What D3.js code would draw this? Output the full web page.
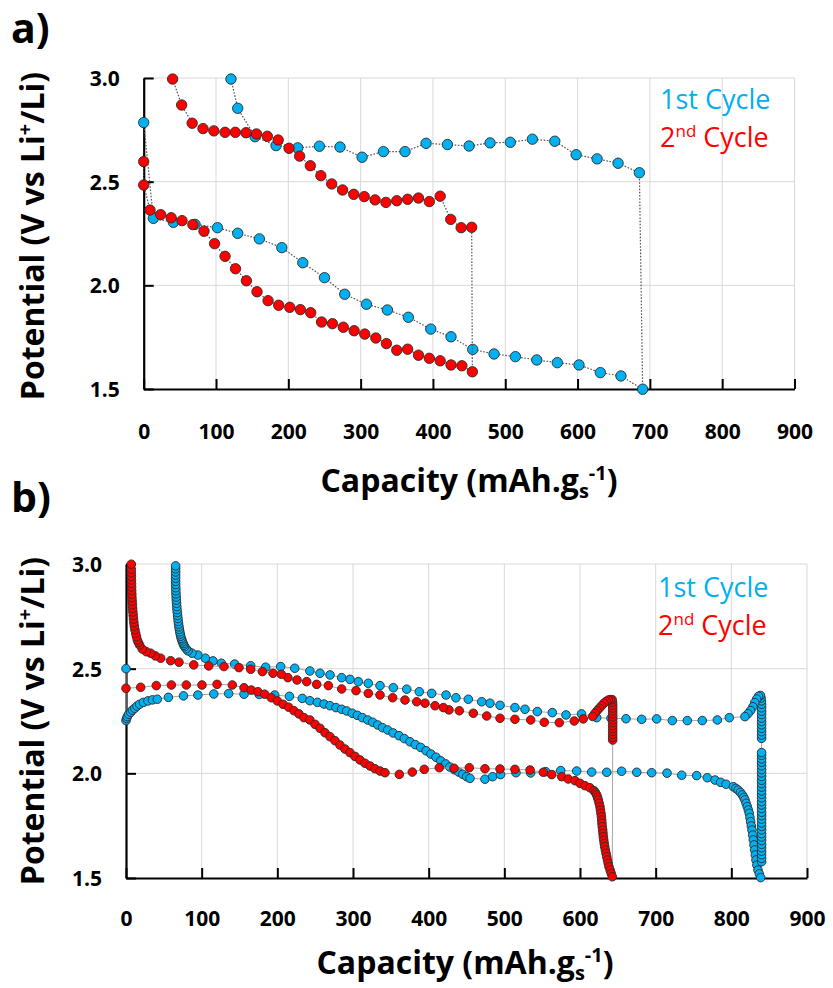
<!DOCTYPE html>
<html>
<head>
<meta charset="utf-8">
<script src="https://cdn.jsdelivr.net/npm/d3@7/dist/d3.min.js"></script>
<style>
  body { margin: 0; background: #fff; }
  text { font-family: "Open Sans", "DejaVu Sans", sans-serif; }
</style>
</head>
<body>
<svg id="chart" width="833" height="988"></svg>
<script>
// Axis ticks
const xTicks = [0, 100, 200, 300, 400, 500, 600, 700, 800, 900];
const yTicks = [1.5, 2.0, 2.5, 3.0];

// Legend
const cycleNames = [["1", "st", " Cycle"], ["2", "nd", " Cycle"]];
const cycleColors = ["#00B0F0", "#FF0000"];

// Panel a: [capacity mAh/g, potential V], in measurement order (discharge then charge)
const cycle1A = [
  [0, 2.785], [13.3, 2.323], [41, 2.304], [71, 2.294], [102, 2.278], [130, 2.251],
  [160, 2.224], [191, 2.182], [220, 2.109], [250, 2.037], [278, 1.957], [308, 1.909],
  [337, 1.881], [366, 1.846], [397, 1.789], [425, 1.752], [455, 1.691], [484.5, 1.669],
  [514, 1.656], [543.6, 1.640], [572, 1.627], [602, 1.616], [631.5, 1.579], [660, 1.563],
  [690, 1.499],
  [685.5, 2.543], [656, 2.589], [627, 2.610], [598, 2.630], [568.5, 2.695], [537.5, 2.705],
  [507, 2.690], [479, 2.687], [450, 2.672], [420, 2.679], [390.5, 2.685], [361.4, 2.645],
  [331.5, 2.645], [302, 2.618], [271.5, 2.667], [243, 2.671], [213, 2.663], [183, 2.674],
  [154, 2.717], [130, 2.854], [120.7, 2.995]
];
const cycle2A = [
  [0, 2.597], [0, 2.484], [8.7, 2.363], [23.5, 2.341], [38, 2.326], [53, 2.312], [68, 2.293],
  [83.4, 2.261], [98, 2.201], [112.5, 2.140], [127, 2.080], [142, 2.022], [156.7, 1.969],
  [172, 1.926], [186.7, 1.904], [202, 1.894], [216.6, 1.883], [231, 1.868], [246, 1.823],
  [261, 1.815], [276, 1.798], [291, 1.781], [305.7, 1.765], [321, 1.746], [335.6, 1.719],
  [350, 1.687], [365, 1.692], [380, 1.663], [395, 1.648], [410, 1.636], [425, 1.616],
  [440, 1.612], [454.5, 1.583],
  [453.6, 2.280], [439, 2.278], [424.6, 2.318], [410, 2.430], [395, 2.404], [380, 2.421],
  [365, 2.415], [350, 2.408], [335, 2.400], [320, 2.412], [305, 2.428], [290.5, 2.439],
  [275, 2.460], [260, 2.489], [245, 2.529], [230.4, 2.577], [215.7, 2.623], [201, 2.661],
  [186, 2.701], [171, 2.719], [156, 2.730], [141.5, 2.736], [126.7, 2.738], [112.5, 2.738],
  [97, 2.745], [82, 2.756], [67, 2.782], [52.5, 2.870], [40, 2.995]
];

// Panel b
const cycle1B = [
  [0, 2.500],
  [0, 2.252], [0.8, 2.262], [1.7, 2.271], [3.5, 2.282], [6.2, 2.292], [8.5, 2.302],
  [11.5, 2.311], [14.5, 2.321], [18, 2.330], [23, 2.339], [29, 2.346], [35, 2.351],
  [41.4, 2.354], [56, 2.363], [76, 2.370], [95, 2.374], [116, 2.379], [135.7, 2.381],
  [156, 2.378], [176, 2.377], [196.5, 2.374], [216, 2.368], [233, 2.358], [243, 2.347],
  [253, 2.339], [261.7, 2.331], [269.6, 2.323], [277.5, 2.314], [285, 2.306], [291.6, 2.298],
  [299, 2.287], [305.7, 2.277], [312.3, 2.266], [319.4, 2.255], [326, 2.244], [332.6, 2.231],
  [339, 2.218], [345.8, 2.207], [353, 2.193], [360.8, 2.180], [367.8, 2.166], [375.3, 2.151],
  [382.3, 2.137], [389.4, 2.124], [396.5, 2.108], [403, 2.092], [409.7, 2.077], [415.9, 2.060],
  [422.5, 2.045], [428, 2.030], [434, 2.017], [439.7, 2.006], [445, 1.995], [450.2, 1.984],
  [454.6, 1.976], [474.4, 1.972], [484.6, 1.984], [495, 1.994], [515.4, 2.003], [534.8, 2.002],
  [554.6, 2.008], [574.5, 2.013], [595.6, 2.011], [615.4, 2.006], [635.3, 2.005], [655, 2.010],
  [675, 2.005], [694.7, 2.003], [715, 2.001], [734.4, 1.991], [754.2, 1.989], [768.2, 1.979],
  [778.4, 1.968], [785.9, 1.957], [793, 1.948], [802.6, 1.936], [806, 1.928], [809, 1.920],
  [812, 1.909], [814.5, 1.897], [816.5, 1.885], [818, 1.873], [819.5, 1.857], [821, 1.841],
  [822.5, 1.825], [823.7, 1.809], [824.6, 1.789], [825.5, 1.769], [826.4, 1.749], [827.3, 1.729],
  [828.2, 1.705], [829, 1.682], [829.9, 1.658], [830.8, 1.634], [831.7, 1.610], [832.6, 1.586],
  [833.8, 1.562], [835.2, 1.538], [837, 1.520], [838.8, 1.502],
  [840, 1.578], [840, 1.594], [840, 1.611], [840, 1.628], [840, 1.645], [840, 1.661],
  [840, 1.679], [840, 1.696], [840, 1.712], [840, 1.730], [840, 1.747], [840, 1.763],
  [840, 1.781], [840, 1.798], [840, 1.814], [840, 1.832], [840, 1.849], [840, 1.865],
  [840, 1.883], [840, 1.900], [840, 1.916], [840, 1.934], [840, 1.951], [840, 1.967],
  [840, 1.985], [840, 2.002], [840, 2.018], [840, 2.036], [840, 2.053], [840, 2.069],
  [840, 2.086], [840, 2.099],
  [840, 2.167], [840, 2.183], [840, 2.199], [840, 2.215], [840, 2.232], [840, 2.248],
  [840, 2.264], [840, 2.281], [840, 2.297], [840, 2.313], [840, 2.330], [839.7, 2.346],
  [839.2, 2.360], [838.5, 2.372],
  [836, 2.368], [833.5, 2.355], [831, 2.338], [828.5, 2.318], [825.5, 2.300], [822, 2.285],
  [818, 2.271], [797.3, 2.266], [781.5, 2.255], [761.6, 2.252], [741.8, 2.252], [722, 2.252],
  [701.3, 2.260], [681.5, 2.258], [660.8, 2.261], [641, 2.263], [622, 2.266], [602, 2.284],
  [581.5, 2.279], [563.4, 2.290], [543.6, 2.295], [527.3, 2.306], [514, 2.314], [494.3, 2.325],
  [481, 2.335], [470, 2.342], [452.4, 2.354], [436, 2.361], [423, 2.374], [404, 2.382],
  [387.6, 2.390], [371, 2.402], [353.3, 2.409], [335.7, 2.419], [320.2, 2.430], [307, 2.438],
  [296, 2.449], [285, 2.457], [269.6, 2.470], [256.4, 2.478], [243, 2.489], [223, 2.502],
  [204.4, 2.510], [184.6, 2.507], [164.8, 2.514], [143.6, 2.522], [126, 2.526], [115, 2.537],
  [104.8, 2.550], [95, 2.565], [87.2, 2.574], [82, 2.585], [79.5, 2.595], [77.5, 2.605],
  [76.4, 2.612], [75.5, 2.620], [74.6, 2.628], [73.8, 2.637], [73, 2.645], [72.3, 2.655],
  [71.7, 2.665], [71.1, 2.676], [70.5, 2.688], [70, 2.700], [69.5, 2.713], [69, 2.726],
  [68.6, 2.740], [68.2, 2.754], [67.8, 2.768], [67.4, 2.782], [67.1, 2.797], [66.8, 2.812],
  [66.5, 2.827], [66.3, 2.842], [66.1, 2.857], [65.9, 2.872], [65.8, 2.887], [65.7, 2.902],
  [65.6, 2.917], [65.6, 2.932], [65.6, 2.947], [65.6, 2.962], [65.6, 2.977], [65.6, 2.991]
];
const cycle2B = [
  [0, 2.406], [19.4, 2.411], [40, 2.419], [60, 2.422], [79.7, 2.422], [100.4, 2.422],
  [120.3, 2.425], [140.5, 2.422], [156, 2.409], [165.6, 2.398], [174.4, 2.390], [183.3, 2.378],
  [192, 2.361], [200, 2.346], [207.5, 2.330], [215, 2.316], [222, 2.299], [228.6, 2.284],
  [235.2, 2.266], [243, 2.255], [249.8, 2.234], [256.4, 2.215], [263, 2.194], [269.6, 2.175],
  [276.2, 2.156], [282.8, 2.135], [289.4, 2.116], [296, 2.099], [302.6, 2.081], [309.2, 2.064],
  [315.8, 2.048], [322.5, 2.035], [329, 2.022], [335.7, 2.011], [342.3, 2.003], [361.2, 1.995],
  [378.4, 2.006], [394.2, 2.019], [414, 2.027], [433.5, 2.024], [453.7, 2.027], [474.4, 2.022],
  [494.3, 2.021], [514, 2.019], [534, 2.016], [551.5, 2.005], [562.6, 1.994], [575.8, 1.984],
  [584.5, 1.973], [593.4, 1.965], [600, 1.952], [606.6, 1.941], [613.2, 1.931], [618.5, 1.917],
  [620.5, 1.907], [622, 1.897], [623.2, 1.885], [624.2, 1.873], [625.3, 1.857], [626.4, 1.841],
  [627, 1.825], [627.7, 1.809], [628.3, 1.793], [628.7, 1.777], [629, 1.761], [629.4, 1.745],
  [630, 1.729], [630.4, 1.713], [630.8, 1.697], [631.4, 1.681], [632, 1.665], [632.6, 1.650],
  [633.5, 1.634], [634.4, 1.618], [635.3, 1.602], [636.3, 1.586], [637.3, 1.570], [638.3, 1.554],
  [639.8, 1.538], [641.2, 1.522], [642.7, 1.506],
  [643.2, 2.159], [643.2, 2.172], [643.2, 2.186], [643.2, 2.200], [643.2, 2.214], [643.2, 2.228],
  [643.2, 2.242], [643.2, 2.256], [643.2, 2.270], [643.2, 2.284], [643.2, 2.298], [643.2, 2.312],
  [643.2, 2.326], [643, 2.340], [642.5, 2.352],
  [640, 2.352], [637.4, 2.350], [634.5, 2.343], [631.7, 2.335], [628.6, 2.323], [625.5, 2.311],
  [622.6, 2.299], [619.8, 2.287], [616.7, 2.272], [604.3, 2.260], [592.4, 2.250], [572.6, 2.242],
  [552.8, 2.244], [534.8, 2.255], [514, 2.258], [494.3, 2.263], [476.7, 2.274], [459, 2.287],
  [440.5, 2.299], [426.8, 2.303], [419.4, 2.314], [408.4, 2.323], [395.1, 2.335], [384.2, 2.342],
  [368.7, 2.350], [352.4, 2.361], [335.7, 2.374], [320.2, 2.382], [304, 2.395], [285, 2.403],
  [267.4, 2.419], [252, 2.425], [238.8, 2.438], [226, 2.446], [214, 2.457], [205.3, 2.473],
  [194.3, 2.478], [180.2, 2.486], [164.8, 2.497], [149.3, 2.505], [129.5, 2.510], [109.3, 2.513],
  [89.5, 2.518], [70, 2.531], [59, 2.538], [45.8, 2.550], [38.8, 2.561], [32.6, 2.574],
  [26.8, 2.581], [21.5, 2.594], [18, 2.613], [16.3, 2.625], [15, 2.637], [13.8, 2.653],
  [12.8, 2.669], [11.8, 2.686], [11, 2.703], [10.4, 2.720], [9.9, 2.737], [9.5, 2.754],
  [9.1, 2.771], [8.8, 2.788], [8.5, 2.805], [8.2, 2.822], [7.9, 2.839], [7.7, 2.856],
  [7.5, 2.873], [7.4, 2.890], [7.3, 2.907], [7.2, 2.924], [7.1, 2.941], [7, 2.958],
  [7, 2.975], [7, 2.999]
];

const svg = d3.select("#chart");

function drawPanel(cfg) {
  const x = d3.scaleLinear().domain([0, 900]).range([cfg.left, cfg.right]);
  const y = d3.scaleLinear().domain([1.5, 3.0]).range([cfg.bottom, cfg.top]);
  const g = svg.append("g");

  // Gridlines
  g.append("g").selectAll("line").data(xTicks.filter(t => t > 0)).join("line")
    .attr("x1", d => x(d)).attr("x2", d => x(d))
    .attr("y1", y(3.0)).attr("y2", y(1.5))
    .attr("stroke", "#d9d9d9").attr("stroke-width", 1);
  g.append("g").selectAll("line").data(yTicks.filter(t => t > 1.5)).join("line")
    .attr("x1", x(0)).attr("x2", x(900))
    .attr("y1", d => y(d)).attr("y2", d => y(d))
    .attr("stroke", "#d9d9d9").attr("stroke-width", 1);

  // Axes with inward ticks
  const ax = g.append("g").attr("transform", `translate(0,${y(1.5)})`)
    .call(d3.axisBottom(x).tickValues(xTicks).tickSize(-10).tickSizeOuter(0).tickFormat(d3.format("d")));
  const ay = g.append("g").attr("transform", `translate(${x(0)},0)`)
    .call(d3.axisLeft(y).tickValues(yTicks).tickSize(-10).tickSizeOuter(0).tickFormat(d3.format(".1f")));
  [ax, ay].forEach(a => {
    a.select(".domain").attr("stroke", "#000").attr("stroke-width", 2.2);
    a.selectAll(".tick line").attr("stroke", "#000").attr("stroke-width", 2);
    a.selectAll(".tick text").attr("fill", "#000").style("font-size", "21px")
      .style("font-weight", "bold").attr("font-family", null);
  });
  ax.selectAll(".tick text").attr("y", cfg.xTickDy).attr("dy", 0);
  ay.selectAll(".tick text").attr("x", -24).attr("dy", "0.36em");

  // Series: connecting line then markers
  const line = d3.line().x(d => x(d[0])).y(d => y(d[1]));
  cfg.series.forEach((s, i) => {
    g.append("path").datum(s).attr("d", line).attr("fill", "none")
      .attr("stroke", cfg.lineColor).attr("stroke-width", cfg.lineWidth)
      .attr("stroke-dasharray", cfg.dash);
    g.append("g").selectAll("circle").data(s).join("circle")
      .attr("cx", d => x(d[0])).attr("cy", d => y(d[1])).attr("r", cfg.r)
      .attr("fill", cycleColors[i]).attr("stroke", "#2b2b2b").attr("stroke-width", 0.9);
  });

  // Legend
  cycleNames.forEach((n, i) => {
    const t = g.append("text").attr("x", cfg.legendX).attr("y", cfg.legendY + i * 38)
      .attr("fill", cycleColors[i]).style("font-size", "27px");
    t.append("tspan").text(n[0]);
    if (i === 0) t.append("tspan").text(n[1]);
    else t.append("tspan").attr("dy", -10).style("font-size", "17px").text(n[1]);
    t.append("tspan").attr("dy", i === 0 ? 0 : 10).text(n[2]);
  });

  // Panel letter
  g.append("text").attr("x", 11).attr("y", cfg.letterY).style("font-size", "41px")
    .style("font-weight", "bold").text(cfg.letter);

  // Axis titles
  const xt = g.append("text").attr("x", cfg.xTitleX).attr("y", cfg.xTitleY)
    .attr("text-anchor", "middle").style("font-size", "32px").style("font-weight", "bold");
  xt.append("tspan").text("Capacity (mAh.g");
  xt.append("tspan").attr("dy", 6).style("font-size", "20px").text("s");
  xt.append("tspan").attr("dy", -18).style("font-size", "20px").text("-1");
  xt.append("tspan").attr("dy", 12).text(")");

  const yt = g.append("text")
    .attr("transform", `translate(44,${cfg.yTitleY}) rotate(-90)`)
    .attr("text-anchor", "middle").style("font-size", "32px").style("font-weight", "bold");
  yt.append("tspan").text("Potential (V vs Li");
  yt.append("tspan").attr("dy", -12).style("font-size", "20px").text("+");
  yt.append("tspan").attr("dy", 12).text("/Li)");
}

drawPanel({
  left: 143.7, right: 794.5, top: 78, bottom: 389,
  series: [cycle1A, cycle2A], r: 5.2,
  lineColor: "#555", lineWidth: 1.2, dash: "1.6,1.6",
  xTickDy: 50, legendX: 660, legendY: 109,
  letter: "a)", letterY: 43, xTitleX: 469, xTitleY: 492, yTitleY: 236
});
drawPanel({
  left: 126, right: 807, top: 564, bottom: 878,
  series: [cycle1B, cycle2B], r: 4.3,
  lineColor: "#a6a6a6", lineWidth: 1, dash: null,
  xTickDy: 48, legendX: 658, legendY: 597,
  letter: "b)", letterY: 512, xTitleX: 465, xTitleY: 974, yTitleY: 721
});
</script>
</body>
</html>
